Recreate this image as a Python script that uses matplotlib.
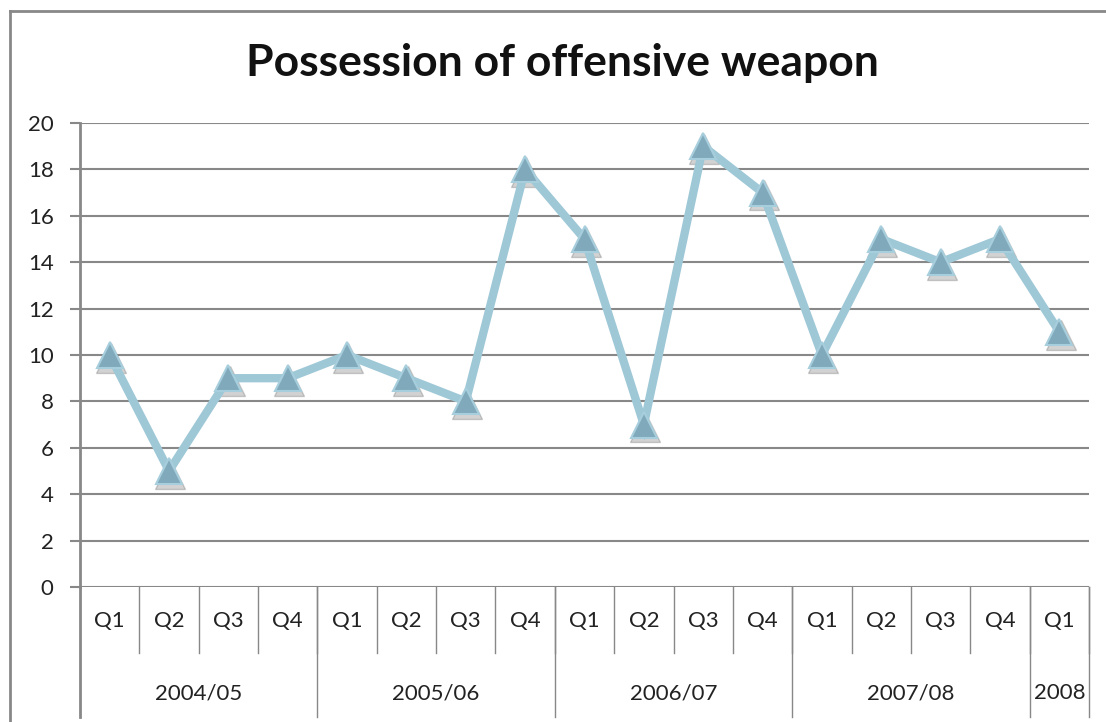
import numpy as np
import matplotlib.pyplot as plt
from matplotlib.transforms import blended_transform_factory
from matplotlib.lines import Line2D

plt.rcParams['font.family'] = ['Lato', 'DejaVu Sans']

# Data
quarters = ['Q1', 'Q2', 'Q3', 'Q4', 'Q1', 'Q2', 'Q3', 'Q4', 'Q1', 'Q2', 'Q3', 'Q4',
            'Q1', 'Q2', 'Q3', 'Q4', 'Q1']
years = ['2004/05', '2005/06', '2006/07', '2007/08', '2008']
year_sizes = [4, 4, 4, 4, 1]
offences = [10, 5, 9, 9, 10, 9, 8, 18, 15, 7, 19, 17, 10, 15, 14, 15, 11]

W, H = 1106, 722
fig = plt.figure(figsize=(W / 100, H / 100), dpi=100)
ax = fig.add_axes([80 / W, (H - 587) / H, 1009 / W, 464 / H])

grey = '#888888'
x = np.arange(len(offences)) + 0.5

# shadow, line, markers
ax.plot(x + 0.02, np.array(offences) - 0.12, linestyle='none', marker='^',
        markersize=21, color='#333333', alpha=0.22, zorder=3)
ax.plot(x, offences, color='#9fc8d7', linewidth=6, zorder=4,
        solid_joinstyle='miter')
ax.plot(x, offences, linestyle='none', marker='^', markersize=19,
        markerfacecolor='#80a9bb', markeredgecolor='#a7cedc',
        markeredgewidth=1.5, zorder=5)

ax.set_xlim(0, len(offences))
ax.set_ylim(0, 20)
ax.set_yticks(range(0, 21, 2))
ax.yaxis.grid(True, color=grey, linewidth=1.5)
ax.set_axisbelow(True)
ax.tick_params(axis='y', length=7, width=1.5, color=grey, pad=12,
               labelsize=16, labelcolor='#222222')
ax.set_xticks([])
for s in ['top', 'right', 'bottom']:
    ax.spines[s].set_visible(False)
ax.spines['left'].set_color(grey)
ax.spines['left'].set_linewidth(2)

# hierarchical category axis
tr = blended_transform_factory(ax.transData, ax.transAxes)
px = 1 / 464
ax.add_line(Line2D([0, 0], [0, -130 * px], transform=tr, color=grey,
                   linewidth=2, clip_on=False))
for i, q in enumerate(quarters):
    ax.text(i + 0.5, -34 * px, q, transform=tr, ha='center', va='center',
            fontsize=16, color='#222222')
    ax.add_line(Line2D([i + 1, i + 1], [0, -66 * px], transform=tr,
                       color=grey, linewidth=1, clip_on=False))
start = 0
for y, n in zip(years, year_sizes):
    ax.text(start + n / 2, -106 * px, y, transform=tr, ha='center',
            va='center', fontsize=16, color='#222222')
    start += n
    ax.add_line(Line2D([start, start], [0, -130 * px], transform=tr,
                       color=grey, linewidth=1, clip_on=False))

fig.text(562 / W, 1 - 63 / H, 'Possession of offensive weapon', ha='center',
         va='center', fontsize=32, fontweight='bold', color='#111111')

# outer chart frame
fig.add_artist(Line2D([10 / W, 10 / W], [0, 1 - 11 / H], color=grey,
                      linewidth=2, transform=fig.transFigure))
fig.add_artist(Line2D([10 / W, 1], [1 - 11 / H, 1 - 11 / H], color=grey,
                      linewidth=2, transform=fig.transFigure))

fig.savefig('out.png', dpi=100)
